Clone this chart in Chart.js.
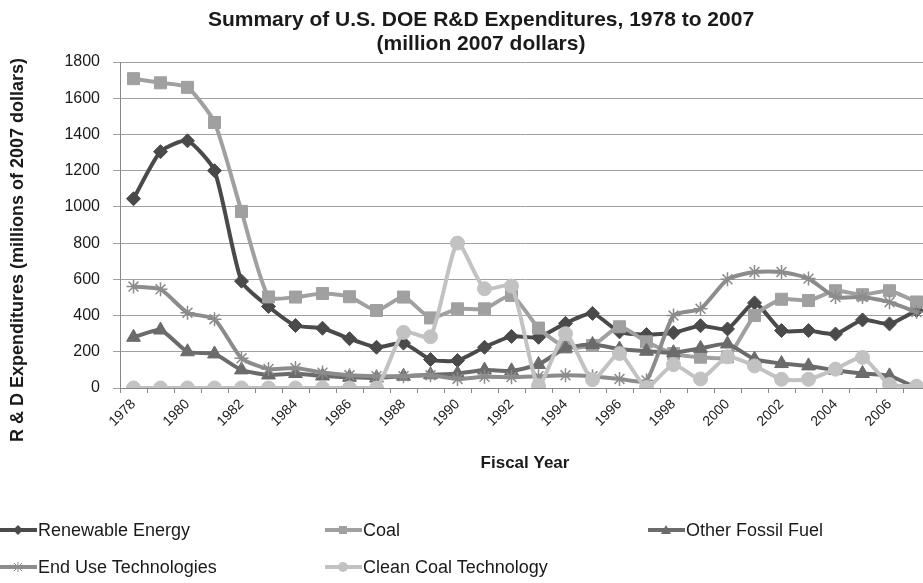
<!DOCTYPE html>
<html>
<head>
<meta charset="utf-8">
<script src="https://cdn.jsdelivr.net/npm/chart.js@4.4.1/dist/chart.umd.min.js"></script>
<style>
body { margin: 0; background: #fff; font-family: "Liberation Sans", Arial, sans-serif; }
#wrap { position: relative; width: 923px; height: 583px; overflow: hidden; }
#chart { position: absolute; left: 0; top: 0; }
.legend-item { position: absolute; height: 20px; font-size: 18px; color: #1a1a1a; display: flex; align-items: center; white-space: nowrap; }
.legend-item svg { margin-right: 1px; }
</style>
</head>
<body>
<div id="wrap">
    <canvas id="chart" width="940" height="583"></canvas>
    <div id="legend"></div>
</div>
<script>
// Data
const years = ['1978', '1979', '1980', '1981', '1982', '1983', '1984', '1985', '1986', '1987',
    '1988', '1989', '1990', '1991', '1992', '1993', '1994', '1995', '1996', '1997',
    '1998', '1999', '2000', '2001', '2002', '2003', '2004', '2005', '2006', '2007'];

const renewable = [1045, 1305, 1365, 1200, 590, 450, 345, 330, 272, 225,
    248, 157, 152, 225, 285, 280, 357, 412, 310, 295,
    305, 344, 326, 470, 317, 317, 298, 376, 354, 428];

const coal = [1708, 1685, 1660, 1466, 975, 503, 502, 522, 504, 428,
    502, 387, 437, 437, 511, 331, 226, 235, 338, 255,
    190, 170, 172, 400, 490, 483, 537, 515, 537, 475];

const otherFossil = [280, 320, 200, 188, 100, 72, 80, 66, 59, 55,
    65, 73, 80, 99, 95, 130, 220, 240, 215, 203,
    195, 219, 243, 159, 135, 122, 98, 80, 67, 0];

const endUse = [560, 545, 416, 380, 164, 105, 110, 85, 70, 65,
    65, 70, 50, 62, 60, 65, 70, 65, 50, 42,
    400, 437, 600, 641, 641, 604, 502, 502, 474, 419];

const cleanCoal = [0, 0, 0, 0, 0, 0, 0, 0, 0, 0,
    307, 283, 800, 548, 563, 12, 300, 46, 190, 3,
    129, 50, 172, 122, 48, 48, 104, 169, 20, 10];

const seriesNames = ['Renewable Energy', 'Coal', 'Other Fossil Fuel', 'End Use Technologies', 'Clean Coal Technology'];
const seriesValues = [renewable, coal, otherFossil, endUse, cleanCoal];

const yTicks = [0, 200, 400, 600, 800, 1000, 1200, 1400, 1600, 1800];

const titleLines = ['Summary of U.S. DOE R&D Expenditures, 1978 to 2007', '(million 2007 dollars)'];
const yTitle = 'R & D Expenditures (millions of 2007 dollars)';
const xTitle = 'Fiscal Year';

// Styles
const FONT = '"Liberation Sans", Arial, sans-serif';
const seriesColors = ['#4a4a4a', '#a0a0a0', '#6b6b6b', '#8c8c8c', '#c2c2c2'];
const seriesMarkers = ['rectRot', 'rect', 'triangle', 'star', 'circle'];
const markerSizes = [7, 8.5, 8, 7, 7];

const datasets = seriesNames.map((name, i) => ({
    label: name,
    data: seriesValues[i],
    borderColor: seriesColors[i],
    backgroundColor: seriesColors[i],
    borderWidth: 4,
    pointStyle: seriesMarkers[i],
    pointRadius: markerSizes[i],
    pointBorderWidth: seriesMarkers[i] === 'star' ? 1.5 : 1,
    pointBackgroundColor: seriesColors[i],
    pointBorderColor: seriesColors[i],
    tension: 0.2,
    order: seriesNames.length - i
}));

// y axis title drawn at the left edge, centred like the original
const yTitlePlugin = {
    id: 'yTitle',
    afterDraw(chart) {
        const ctx = chart.ctx;
        ctx.save();
        ctx.translate(18, 250);
        ctx.rotate(-Math.PI / 2);
        ctx.font = 'bold 18px ' + FONT;
        ctx.fillStyle = '#1a1a1a';
        ctx.textAlign = 'center';
        ctx.textBaseline = 'middle';
        ctx.fillText(yTitle, 0, 0);
        ctx.restore();
    }
};

new Chart(document.getElementById('chart'), {
    type: 'line',
    data: { labels: years, datasets: datasets },
    plugins: [yTitlePlugin],
    options: {
        responsive: false,
        animation: false,
        devicePixelRatio: 1,
        layout: { padding: { left: 32, right: 10, top: 0, bottom: 109 } },
        plugins: {
            legend: { display: false },
            tooltip: { enabled: false },
            title: {
                display: true,
                text: titleLines,
                color: '#1a1a1a',
                font: { family: FONT, size: 21, weight: 'bold', lineHeight: '24px' },
                padding: { top: 8, bottom: 6 }
            }
        },
        scales: {
            x: {
                offset: true,
                afterFit(scale) { scale.height = 86; },
                grid: { display: true, drawOnChartArea: false, drawTicks: true, tickLength: 5, offset: true, color: '#888' },
                border: { display: true, color: '#888', width: 1 },
                ticks: {
                    autoSkip: false,
                    maxRotation: 45,
                    minRotation: 45,
                    padding: 3,
                    color: '#1a1a1a',
                    font: { family: FONT, size: 14 },
                    callback: function (value, index) { return index % 2 === 0 ? years[index] : ''; }
                },
                title: {
                    display: true,
                    text: xTitle,
                    color: '#1a1a1a',
                    font: { family: FONT, size: 17, weight: 'bold' },
                    padding: 0
                }
            },
            y: {
                min: 0,
                max: 1800,
                afterFit(scale) { scale.width = 88; },
                afterBuildTicks(scale) { scale.ticks = yTicks.map(v => ({ value: v })); },
                grid: { color: '#a0a0a0', tickLength: 7 },
                border: { display: true, color: '#888', width: 1 },
                ticks: {
                    padding: 13,
                    color: '#1a1a1a',
                    font: { family: FONT, size: 16 },
                    callback: v => String(v)
                }
            }
        }
    }
});

// Legend built from the same series arrays
const legendSlots = [[0, 520], [325, 520], [648, 520], [0, 557], [325, 557]];

function markerSvg(style, color) {
    let shape = '';
    if (style === 'rectRot') shape = `<polygon points="18,5 23,10 18,15 13,10" fill="${color}"/>`;
    if (style === 'rect') shape = `<rect x="14" y="6" width="8" height="8" fill="${color}"/>`;
    if (style === 'triangle') shape = `<polygon points="18,5 23,14 13,14" fill="${color}"/>`;
    if (style === 'star') shape = `<path d="M14,6 L22,14 M22,6 L14,14 M18,5 L18,15" stroke="${color}" stroke-width="1"/>`;
    if (style === 'circle') shape = `<circle cx="18" cy="10" r="5" fill="${color}"/>`;
    return `<svg width="37" height="20"><line x1="0" y1="10" x2="37" y2="10" stroke="${color}" stroke-width="4"/>${shape}</svg>`;
}

const legendEl = document.getElementById('legend');
seriesNames.forEach((name, i) => {
    const item = document.createElement('div');
    item.className = 'legend-item';
    item.style.left = legendSlots[i][0] + 'px';
    item.style.top = legendSlots[i][1] + 'px';
    item.innerHTML = markerSvg(seriesMarkers[i], seriesColors[i]) + '<span>' + name + '</span>';
    legendEl.appendChild(item);
});
</script>
</body>
</html>
